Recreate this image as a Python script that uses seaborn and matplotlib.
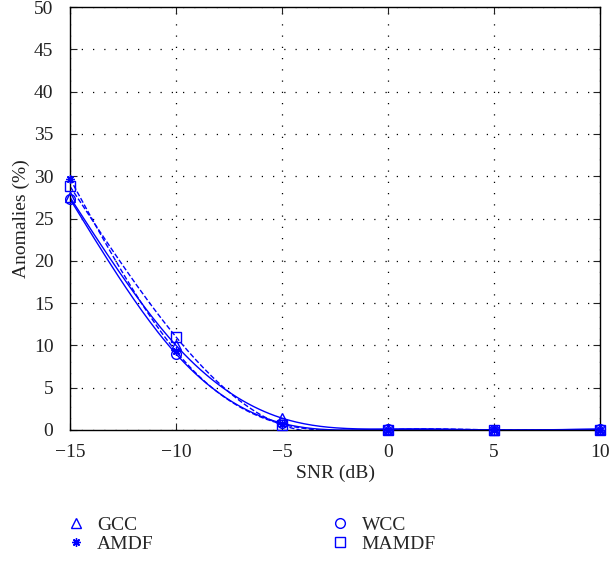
import numpy as np
import pandas as pd
import matplotlib
matplotlib.use("Agg")
import matplotlib.pyplot as plt
import seaborn as sns
from matplotlib.lines import Line2D

snr = [-15, -10, -5, 0, 5, 10]
gcc = [27.5, 10.0, 1.4, 0.1, 0.0, 0.1]
wcc = [27.3, 9.0, 0.8, 0.1, 0.0, 0.1]
amdf = [29.7, 9.3, 0.7, 0.0, 0.0, 0.0]
mamdf = [28.8, 11.0, 0.6, 0.0, 0.0, 0.0]
names = ["GCC", "WCC", "AMDF", "MAMDF"]
series = [gcc, wcc, amdf, mamdf]
markers = ["^", "o", (8, 2, 0), "s"]
styles = ["-", "-", "--", "--"]


def natural_spline(x, y, n=200):
    x = np.asarray(x, float)
    y = np.asarray(y, float)
    m = len(x)
    h = np.diff(x)
    A = np.zeros((m, m))
    b = np.zeros(m)
    A[0, 0] = 1
    A[-1, -1] = 1
    for i in range(1, m - 1):
        A[i, i - 1] = h[i - 1]
        A[i, i] = 2 * (h[i - 1] + h[i])
        A[i, i + 1] = h[i]
        b[i] = 6 * ((y[i + 1] - y[i]) / h[i] - (y[i] - y[i - 1]) / h[i - 1])
    M = np.linalg.solve(A, b)
    xs = np.linspace(x[0], x[-1], n)
    ys = np.empty_like(xs)
    for k, xv in enumerate(xs):
        i = min(np.searchsorted(x, xv, side="right") - 1, m - 2)
        t0 = x[i + 1] - xv
        t1 = xv - x[i]
        ys[k] = (M[i] * t0 ** 3 / (6 * h[i]) + M[i + 1] * t1 ** 3 / (6 * h[i])
                 + (y[i] / h[i] - M[i] * h[i] / 6) * t0
                 + (y[i + 1] / h[i] - M[i + 1] * h[i] / 6) * t1)
    return xs, ys


sns.set_style("white")
plt.rcParams["font.family"] = ["Liberation Serif", "DejaVu Serif"]

fig = plt.figure(figsize=(6.1, 5.62), dpi=100)
ax = fig.add_axes([0.1148, 0.2349, 0.8688, 0.7526])

blue = (0, 0, 1)
for name, vals, mk, ls in zip(names, series, markers, styles):
    xs, ys = natural_spline(snr, vals)
    sns.lineplot(x=xs, y=ys, ax=ax, color=blue, linestyle=ls, lw=1.0)
    df = pd.DataFrame({"x": snr, "y": vals})
    ms = 6 if isinstance(mk, tuple) else 7
    ax.plot(df["x"], df["y"], linestyle="none", marker=mk, markersize=ms,
            markerfacecolor="none", markeredgecolor=blue, markeredgewidth=1.0,
            clip_on=False, zorder=5)

ax.set_xlim(-15, 10)
ax.set_ylim(0, 50)
ax.set_xticks([-15, -10, -5, 0, 5, 10])
ax.set_xticklabels(["\u221215", "\u221210", "\u22125", "0", "5", "10"])
ax.set_yticks(range(0, 51, 5))
ax.grid(True, color="black", linestyle=(0, (1, 8)), linewidth=0.9)
ax.tick_params(direction="in", length=5, labelsize=14, colors="#222222",
               top=True, right=True, bottom=True, left=True)
ax.tick_params(axis="x", pad=10)
ax.tick_params(axis="y", pad=12)
for s in ax.spines.values():
    s.set_color("black")
    s.set_linewidth(1.0)
ax.set_xlabel("SNR (dB)", fontsize=14, color="#222222", labelpad=3)
ax.set_ylabel("Anomalies (%)", fontsize=14, color="#222222", labelpad=3)

handles = [Line2D([], [], linestyle="none", marker=m,
                  markersize=(6 if isinstance(m, tuple) else 7),
                  markerfacecolor="none", markeredgecolor=blue,
                  markeredgewidth=1.0) for m in markers]
order = [0, 2, 1, 3]
fig.legend([handles[i] for i in order], [names[i] for i in order],
           ncol=2, frameon=False, fontsize=14, loc="upper left",
           bbox_to_anchor=(0.076, 0.112), columnspacing=9.0,
           handletextpad=0.5, labelspacing=0.05, handlelength=1.2)

fig.savefig("out.png", dpi=100)
